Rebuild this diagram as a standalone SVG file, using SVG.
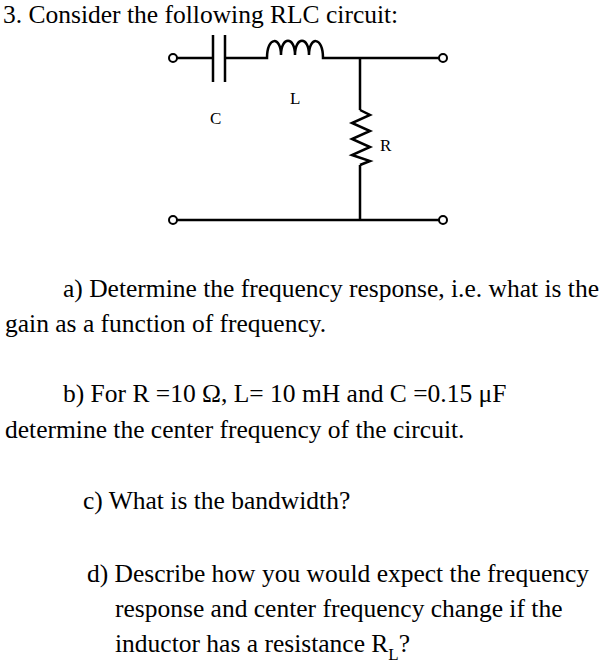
<svg xmlns="http://www.w3.org/2000/svg" width="607" height="668" viewBox="0 0 607 668">
<style>
.t{font-family:"Liberation Serif","Times New Roman",serif;font-size:25.5px;fill:#000}
.l{font-family:"Liberation Serif","Times New Roman",serif;font-size:17px;fill:#000}
.w{stroke:#000;stroke-width:2.5;fill:none}
.term{stroke:#000;stroke-width:2;fill:#fff}
</style>
<rect width="607" height="668" fill="#fff"/>
<text class="t" x="3" y="23">3. Consider the following RLC circuit:</text>
<g id="connectors">
<path class="w" d="M176 58H213 M225 58H257 M327 58H440 M360 58V110 M360 165V220 M176 220H440"/>
</g>
<g id="C"><path class="w" d="M213 35V82 M225 35V82"/><text class="l" x="210" y="124">C</text></g>
<g id="L"><path class="w" d="M257 58H267 C267 36 281 36 281 55 C281 36 295 36 295 55 C295 36 309 36 309 55 C309 36 323 36 323 58 H327"/><text class="l" x="290" y="104">L</text></g>
<g id="R"><path class="w" d="M360 110 L370 115 L352 123 L370 131 L352 139 L370 147 L352 155 L370 161 L360 165"/><text class="l" x="380" y="151">R</text></g>
<g id="terminals">
<circle class="term" cx="173" cy="58" r="4"/><circle class="term" cx="443" cy="58" r="4"/>
<circle class="term" cx="173" cy="220" r="4"/><circle class="term" cx="443" cy="220" r="4"/>
</g>
<text class="t" x="63" y="297">a) Determine the frequency response, i.e. what is the</text>
<text class="t" x="5" y="332">gain as a function of frequency.</text>
<text class="t" x="63" y="402">b) For R =10 Ω, L= 10 mH and C =0.15 μF</text>
<text class="t" x="5" y="438">determine the center frequency of the circuit.</text>
<text class="t" x="83" y="509">c) What is the bandwidth?</text>
<text class="t" x="87" y="582">d) Describe how you would expect the frequency</text>
<text class="t" x="115" y="617">response and center frequency change if the</text>
<text class="t" x="115" y="652">inductor has a resistance R<tspan font-size="17" dy="8">L</tspan><tspan dy="-8">?</tspan></text>
</svg>
